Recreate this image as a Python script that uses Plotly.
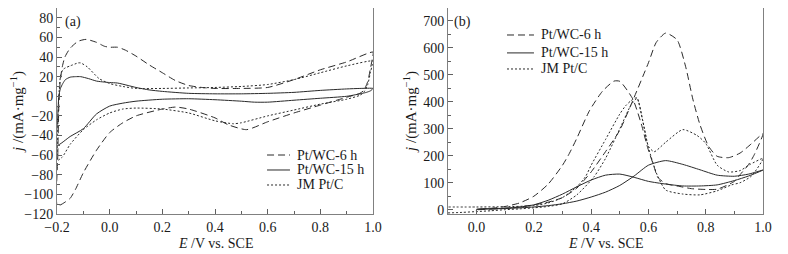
import plotly.graph_objects as go

# ---------------- Panel (a): CV in H2SO4 ----------------
a_names = ["Pt/WC-6 h", "Pt/WC-15 h", "JM Pt/C"]

a6_x = [-0.2, -0.197, -0.193, -0.188, -0.18, -0.17, -0.15, -0.12, -0.09, -0.05, -0.02, 0.0, 0.03, 0.06,
        0.1, 0.15, 0.2, 0.25, 0.3, 0.35, 0.4, 0.5, 0.6, 0.7, 0.8, 0.9, 1.0,
        0.997, 0.99, 0.98, 0.965, 0.95, 0.9, 0.8, 0.7, 0.6, 0.52, 0.45, 0.4, 0.3, 0.25, 0.2, 0.1,
        0.05, 0.0, -0.05, -0.1, -0.13, -0.15, -0.17, -0.19, -0.2]
a6_y = [-110, -60, -10, 15, 30, 40, 49, 56, 58, 55, 51, 50, 50, 47,
        41, 32, 24, 16, 11, 9, 8, 8, 9, 17, 27, 35, 45,
        38, 28, 15, 6, 3, -1, -9, -17, -26, -34, -29, -22, -13, -11, -13, -20,
        -27, -37, -55, -78, -95, -104, -108, -111, -110]

a15_x = [-0.2, -0.197, -0.193, -0.187, -0.178, -0.168, -0.15, -0.13, -0.11, -0.08, -0.05, -0.02, 0.0, 0.03,
         0.07, 0.1, 0.15, 0.2, 0.3, 0.4, 0.5, 0.6, 0.7, 0.8, 0.9, 0.95, 1.0,
         0.997, 0.99, 0.975, 0.96, 0.9, 0.8, 0.7, 0.6, 0.55, 0.5, 0.4, 0.3, 0.2, 0.1, 0.05, 0.0,
         -0.05, -0.1, -0.15, -0.2]
a15_y = [-50, -20, 0, 8, 13, 17, 19.5, 20, 20, 18, 15.5, 14.5, 14, 13.5,
         11, 9, 6.5, 5, 3, 2.5, 2.5, 3, 4, 6, 7.5, 8, 8,
         7, 5.5, 4, 3, 0, -2, -4, -6, -6, -5, -3.5, -2.5, -3, -5, -7, -10,
         -18, -33, -41, -50]

ajm_x = [-0.2, -0.197, -0.193, -0.187, -0.178, -0.168, -0.15, -0.12, -0.11, -0.085, -0.04, 0.0, 0.05,
         0.1, 0.2, 0.3, 0.4, 0.5, 0.6, 0.7, 0.8, 0.9, 1.0,
         0.997, 0.99, 0.98, 0.965, 0.95, 0.9, 0.8, 0.7, 0.6, 0.5, 0.47, 0.4, 0.3, 0.2, 0.1,
         0.05, 0.0, -0.05, -0.1, -0.15, -0.18, -0.2]
ajm_y = [-65, -30, 0, 20, 27, 29, 31, 34, 34, 30, 18, 13, 10,
         8, 8, 8.5, 9, 10, 12, 17, 24, 31, 36,
         32, 24, 12, 4, 1, -3, -8, -14, -20, -27, -28, -25, -17, -13, -12,
         -13, -17, -24, -34, -49, -62, -66]

# ---------------- Panel (b): methanol oxidation ----------------
b6_x = [0.0, 0.05, 0.1, 0.15, 0.2, 0.25, 0.3, 0.35, 0.376, 0.4, 0.45, 0.5, 0.545, 0.6, 0.627, 0.66,
        0.7, 0.73, 0.755, 0.78, 0.81, 0.84, 0.88, 0.92, 0.96, 1.0,
        0.97, 0.95, 0.92, 0.9, 0.84, 0.8, 0.75, 0.71, 0.66, 0.632, 0.62, 0.597, 0.575, 0.545,
        0.5, 0.48, 0.44, 0.394, 0.35, 0.324, 0.3, 0.25, 0.2, 0.15, 0.1, 0.05, 0.0]
b6_y = [0, 2, 5, 10, 18, 28, 45, 80, 110, 140, 215, 295, 404, 545, 620, 655,
        630, 530, 410, 315, 235, 198, 193, 210, 245, 282,
        205, 168, 130, 105, 76, 75, 78, 86, 97, 121, 158, 231, 318, 411,
        476, 477, 440, 367, 265, 209, 165, 95, 50, 25, 12, 5, 0]

b15_x = [0.0, 0.0, 0.1, 0.2, 0.25, 0.3, 0.35, 0.4, 0.45, 0.5, 0.55, 0.6, 0.66, 0.72, 0.78, 0.84, 0.9, 0.95, 1.0,
         0.95, 0.9, 0.84, 0.78, 0.72, 0.66, 0.6, 0.55, 0.5, 0.45, 0.4, 0.35, 0.3, 0.25, 0.2, 0.15, 0.1, 0.05, 0.0]
b15_y = [-12, 0, 4, 10, 15, 22, 32, 47, 65, 90, 125, 165, 182, 168, 148, 128, 124, 132, 147,
         125, 108, 92, 88, 88, 95, 105, 120, 132, 128, 110, 85, 58, 35, 18, 10, 6, 3, 2]

bjm_x = [-0.1, -0.05, 0.0, 0.05, 0.1, 0.15, 0.2, 0.25, 0.3, 0.35, 0.41, 0.45, 0.5, 0.54, 0.56, 0.58, 0.6,
         0.62, 0.66, 0.72, 0.77, 0.8, 0.84, 0.88, 0.92, 0.955, 1.0,
         0.96, 0.92, 0.89, 0.84, 0.78, 0.72, 0.66, 0.63, 0.6, 0.58, 0.56, 0.54, 0.52, 0.5, 0.45,
         0.4, 0.38, 0.35, 0.3, 0.25, 0.2, 0.1, 0.0, -0.1]
bjm_y = [-12, -10, -7, -4, 0, 3, 7, 12, 22, 55, 122, 190, 300, 390, 412, 330, 235,
         215, 250, 297, 275, 246, 165, 140, 145, 168, 190,
         125, 100, 92, 70, 55, 58, 73, 130, 230, 330, 415, 405, 385, 355, 260,
         165, 122, 85, 45, 25, 15, 11, 10, 10]

LINE = "#2a2a2a"
dashes = ["7px,4px", "solid", "2px,2px"]
FONT = "Times New Roman, Liberation Serif, serif"
TXT = "#1a1a1a"

fig = go.Figure()

a_sets = [(a6_x, a6_y), (a15_x, a15_y), (ajm_x, ajm_y)]
b_sets = [(b6_x, b6_y), (b15_x, b15_y), (bjm_x, bjm_y)]

for (xs, ys), name, d in zip(a_sets, a_names, dashes):
    fig.add_trace(go.Scatter(x=xs, y=ys, mode="lines", name=name, xaxis="x", yaxis="y",
                             showlegend=False,
                             line=dict(color=LINE, width=1, dash=d, shape="spline", smoothing=0.6)))
for (xs, ys), name, d in zip(b_sets, a_names, dashes):
    fig.add_trace(go.Scatter(x=xs, y=ys, mode="lines", name=name, xaxis="x2", yaxis="y2",
                             showlegend=False,
                             line=dict(color=LINE, width=1, dash=d, shape="spline", smoothing=0.6)))

axis_common = dict(showline=True, linecolor="#808080", linewidth=1, mirror=True,
                   ticks="inside", ticklen=5, tickcolor="#606060", showgrid=False, zeroline=False,
                   tickfont=dict(family=FONT, size=14, color=TXT))

y_title = dict(text="<i>j</i> /(mA·mg<sup>−1</sup>)", font=dict(family=FONT, size=15, color=TXT), standoff=2)

annotations = [
    dict(text="(a)", x=0.0227, y=0.932, xref="paper", yref="paper", xanchor="center",
         yanchor="middle", showarrow=False, font=dict(family=FONT, size=14, color=TXT)),
    dict(text="(b)", x=0.575, y=0.932, xref="paper", yref="paper", xanchor="center",
         yanchor="middle", showarrow=False, font=dict(family=FONT, size=14, color=TXT)),
    dict(text="<i>E</i> /V vs. SCE", x=0.2238, y=-0.141, xref="paper", yref="paper",
         xanchor="center", yanchor="middle", showarrow=False,
         font=dict(family=FONT, size=14, color=TXT)),
    dict(text="<i>E</i> /V vs. SCE", x=0.777, y=-0.141, xref="paper", yref="paper",
         xanchor="center", yanchor="middle", showarrow=False,
         font=dict(family=FONT, size=14, color=TXT)),
]

# Legend keys (sample line + label) placed inside each panel
legend_a = dict(x0=0.2975, x1=0.330, tx=0.337, rows=[0.2864, 0.2136, 0.1408], size=14)
legend_b = dict(x0=0.6374, x1=0.6756, tx=0.6827, rows=[0.869, 0.782, 0.704], size=14)
shapes = []
for leg in (legend_a, legend_b):
    for name, d, yr in zip(a_names, dashes, leg["rows"]):
        shapes.append(dict(type="line", xref="paper", yref="paper", x0=leg["x0"], x1=leg["x1"],
                           y0=yr, y1=yr, line=dict(color=LINE, width=1, dash=d)))
        annotations.append(dict(text=name, x=leg["tx"], y=yr, xref="paper", yref="paper",
                                xanchor="left", yanchor="middle", showarrow=False,
                                font=dict(family=FONT, size=leg["size"], color=TXT)))

# The page body adds an 8px offset, so the figure is sized 8px smaller.
fig.update_layout(
    width=780, height=246,
    margin=dict(l=49, r=25, t=0, b=40),
    paper_bgcolor="white", plot_bgcolor="white",
    font=dict(family=FONT, size=14, color=TXT),
    showlegend=False,
    xaxis=dict(domain=[0, 0.4476], range=[-0.2, 1.0], dtick=0.2, tick0=0, tickformat=".1f",
               minor=dict(ticks="inside", ticklen=3, dtick=0.1, tickcolor="#606060"),
               anchor="y", **axis_common),
    yaxis=dict(domain=[0, 1], range=[-120, 90], dtick=20, tick0=0,
               minor=dict(ticks="inside", ticklen=3, dtick=10, tickcolor="#606060"),
               title=y_title, anchor="x", **axis_common),
    xaxis2=dict(domain=[0.5538, 1.0], range=[-0.1, 1.0], dtick=0.2, tick0=0, tickformat=".1f",
                minor=dict(ticks="inside", ticklen=3, dtick=0.1, tickcolor="#606060"),
                anchor="y2", **axis_common),
    yaxis2=dict(domain=[0, 1], range=[-16, 748], dtick=100, tick0=0,
                minor=dict(ticks="inside", ticklen=3, dtick=50, tickcolor="#606060"),
                title=y_title, anchor="x2", **axis_common),
    annotations=annotations,
    shapes=shapes,
)

fig.write_html("out.html")
